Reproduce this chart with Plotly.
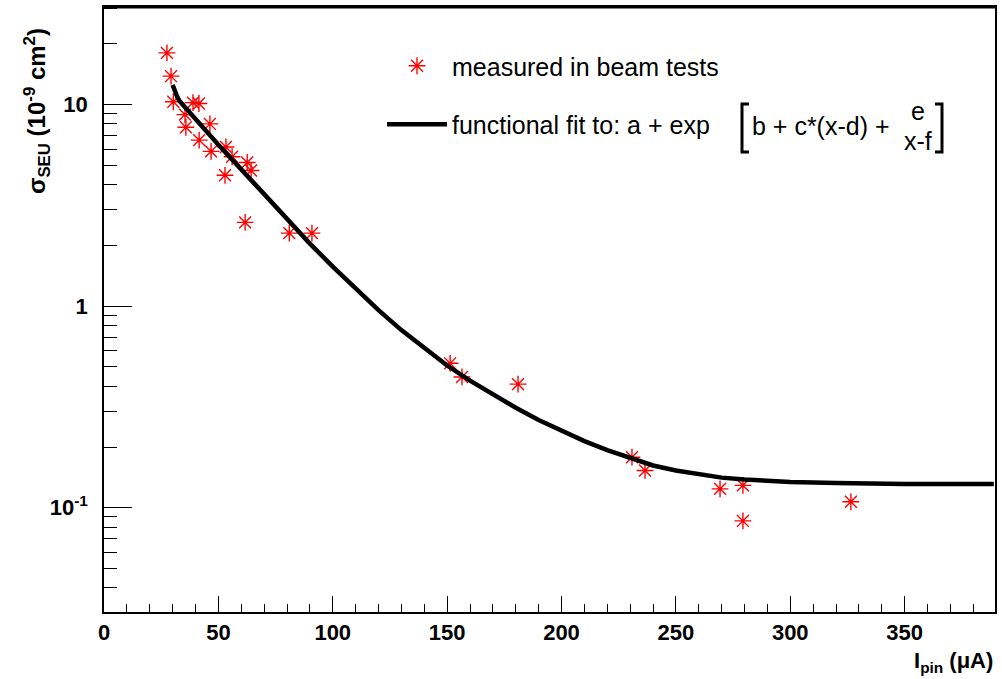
import plotly.graph_objects as go
import math

# measured points (I_pin in uA, sigma_SEU in 1e-9 cm^2)
meas_x = [27.5, 29.3, 30.3, 38.9, 41.5, 35.4, 35.8, 46.3, 41.6, 46.8, 53.3, 56.0,
          62.6, 64.3, 52.9, 61.7, 81.0, 90.9, 151.3, 156.5, 181.0, 230.8, 236.5,
          269.3, 279.3, 279.3, 326.5]
meas_y = [18.0, 13.8, 10.3, 10.2, 10.1, 8.9, 7.7, 8.0, 6.65, 5.85, 6.15, 5.5,
          5.15, 4.7, 4.45, 2.6, 2.3, 2.3, 0.52, 0.445, 0.41, 0.178, 0.153,
          0.124, 0.129, 0.086, 0.107]

# fit curve
fit_x = [30, 31, 32, 33, 40, 50, 60, 70, 80, 85, 90, 100, 110, 120, 130, 140, 150,
         160, 170, 180, 190, 200, 210, 220, 230, 240, 250, 260, 270, 280, 300,
         320, 350, 389]
fit_y = [12.5, 11.5, 10.9, 10.4, 8.4, 6.3, 4.76, 3.58, 2.69, 2.33, 2.04, 1.57,
         1.22, 0.955, 0.76, 0.617, 0.507, 0.427, 0.363, 0.313, 0.272, 0.24,
         0.214, 0.193, 0.176, 0.162, 0.153, 0.146, 0.141, 0.138, 0.134, 0.1325,
         0.131, 0.131]

y_major = [0.1, 1, 10]
y_major_text = ["10<sup>-1</sup>", "1", "10"]

FONT = "Liberation Sans"

# plot area in pixels
W, H = 1002, 679
L, R, T, B = 104, 7, 7, 67
PW, PH = W - L - R, H - T - B


def px(xp):
    return (xp - L) / PW


def py(yp):
    return (H - B - yp) / PH


fig = go.Figure()
fig.add_trace(go.Scatter(
    x=meas_x, y=meas_y, mode="markers", name="measured in beam tests",
    legendgroup="g1",
    marker=dict(symbol="asterisk-open", size=14, color="red",
                line=dict(color="red", width=1.4))))
fig.add_trace(go.Scatter(
    x=fit_x, y=fit_y, mode="lines", name="functional fit to: a + exp",
    legendgroup="g2",
    line=dict(color="black", width=4.5), showlegend=True))

minor_vals = [m * 10 ** e for e in (-2, -1, 0, 1) for m in range(2, 10)]

fig.update_layout(
    width=W, height=H,
    margin=dict(l=L, r=R, t=T, b=B, autoexpand=False),
    paper_bgcolor="white", plot_bgcolor="white",
    font=dict(family=FONT, color="black"),
    showlegend=True,
    legend=dict(x=px(382), y=py(43), xanchor="left", yanchor="top",
                bgcolor="rgba(0,0,0,0)", borderwidth=0,
                font=dict(family=FONT, size=25, color="black"),
                itemwidth=60, traceorder="grouped", tracegroupgap=23),
    xaxis=dict(range=[0, 389.5], showgrid=False, zeroline=False,
               showline=True, linecolor="black", linewidth=1.5, mirror=True,
               ticks="inside", ticklen=16, tickwidth=1.2, tickcolor="black",
               dtick=50, tick0=0,
               minor=dict(dtick=10, ticks="inside", ticklen=8, tickwidth=1.2,
                          tickcolor="black", showgrid=False),
               tickfont=dict(family=FONT, size=22, color="black", weight="bold"),
               ticklabelstandoff=0),
    yaxis=dict(type="log", range=[math.log10(0.0304), math.log10(30.4)],
               showgrid=False, zeroline=False,
               showline=True, linecolor="black", linewidth=1.5, mirror=True,
               ticks="inside", ticklen=28, tickwidth=1.2, tickcolor="black",
               tickmode="array", tickvals=y_major, ticktext=y_major_text,
               minor=dict(tickmode="array", tickvals=minor_vals, ticks="inside",
                          ticklen=13, tickwidth=1.2, tickcolor="black",
                          showgrid=False),
               tickfont=dict(family=FONT, size=22, color="black", weight="bold"),
               ticklabelstandoff=10),
)

# frame top emphasis
fig.add_shape(type="line", xref="paper", yref="paper", x0=0, x1=1, y0=1, y1=1,
              line=dict(color="black", width=3))

# axis titles
fig.add_annotation(text="σ<sub>SEU</sub> (10<sup>-9</sup> cm<sup>2</sup>)",
                   xref="paper", yref="paper", x=px(37), y=py(26),
                   xanchor="center", yanchor="top", textangle=-90,
                   showarrow=False,
                   font=dict(family=FONT, size=24, color="black", weight="bold"))
fig.add_annotation(text="I<sub>pin</sub> (μA)", xref="paper", yref="paper",
                   x=px(995), y=py(662), xanchor="right", yanchor="middle",
                   showarrow=False,
                   font=dict(family=FONT, size=22, color="black", weight="bold"))

# remainder of the fit formula in the legend
lf = dict(family=FONT, size=25, color="black")
fig.add_annotation(text="b + c*(x-d) +", xref="paper", yref="paper",
                   x=px(750), y=py(126), xanchor="left", yanchor="middle",
                   showarrow=False, font=lf)
fig.add_annotation(text="e", xref="paper", yref="paper",
                   x=px(918), y=py(111), xanchor="center", yanchor="middle",
                   showarrow=False, font=lf)
fig.add_annotation(text="x-f", xref="paper", yref="paper",
                   x=px(918), y=py(141), xanchor="center", yanchor="middle",
                   showarrow=False, font=lf)
for xb, d in ((742, 7), (942, -7)):
    fig.add_shape(type="path", xref="paper", yref="paper",
                  path=(f"M {px(xb + d)} {py(104)} L {px(xb)} {py(104)} "
                        f"L {px(xb)} {py(152)} L {px(xb + d)} {py(152)}"),
                  line=dict(color="black", width=3))

fig.write_html("out.html",
               config={"displayModeBar": False},
               post_script="document.body.style.margin='0px';"
                           "document.body.style.overflow='hidden';")
